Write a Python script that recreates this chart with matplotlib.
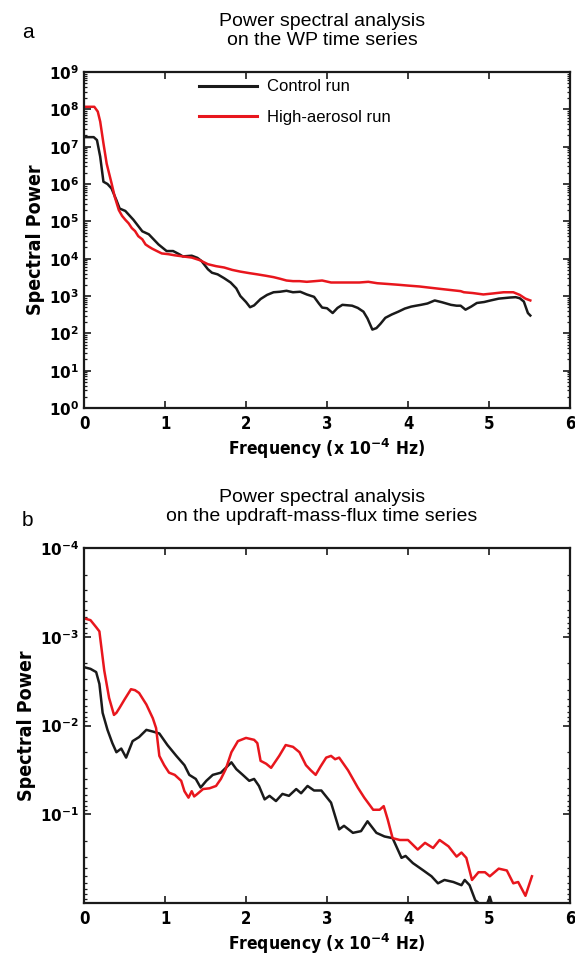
import matplotlib
matplotlib.use("Agg")
import matplotlib.pyplot as plt
from matplotlib import font_manager as fm
from matplotlib.ticker import LogLocator, FixedLocator, NullFormatter

# ---------------- data (panel a: WP time series) ----------------
freq_a_ctrl = [0.00, 0.12, 0.16, 0.20, 0.24, 0.29, 0.34, 0.40, 0.44, 0.51, 0.61, 0.72, 0.80, 0.92,
               1.02, 1.10, 1.18, 1.22, 1.33, 1.40, 1.45, 1.53, 1.58, 1.65, 1.73, 1.81, 1.88, 1.93,
               2.00, 2.05, 2.10, 2.18, 2.26, 2.34, 2.42, 2.50, 2.58, 2.67, 2.75, 2.84, 2.90, 2.94,
               3.00, 3.07, 3.13, 3.19, 3.31, 3.38, 3.45, 3.50, 3.56, 3.61, 3.66, 3.72, 3.80, 3.88,
               3.96, 4.04, 4.10, 4.16, 4.24, 4.33, 4.42, 4.53, 4.60, 4.65, 4.71, 4.78, 4.85, 4.94,
               5.02, 5.12, 5.26, 5.33, 5.38, 5.43, 5.48, 5.51]
power_a_ctrl = [1.8e7, 1.8e7, 1.5e7, 5.4e6, 1.15e6, 1.0e6, 7.6e5, 3.7e5, 2.2e5, 1.9e5, 1.1e5, 5.4e4, 4.5e4, 2.4e4,
                1.6e4, 1.6e4, 1.3e4, 1.15e4, 1.2e4, 1.05e4, 8.7e3, 5.2e3, 4.2e3, 3.8e3, 3.0e3, 2.3e3, 1.6e3, 1.0e3,
                6.9e2, 5.0e2, 5.6e2, 8.3e2, 1.07e3, 1.26e3, 1.3e3, 1.38e3, 1.26e3, 1.3e3, 1.1e3, 9.5e2, 6.3e2, 4.9e2,
                4.7e2, 3.5e2, 4.8e2, 5.8e2, 5.5e2, 4.8e2, 3.8e2, 2.5e2, 1.26e2, 1.38e2, 1.8e2, 2.6e2, 3.2e2, 3.8e2,
                4.6e2, 5.2e2, 5.5e2, 5.8e2, 6.3e2, 7.6e2, 6.8e2, 5.8e2, 5.5e2, 5.5e2, 4.3e2, 5.2e2, 6.5e2, 6.9e2,
                7.6e2, 8.5e2, 9.1e2, 9.3e2, 8.7e2, 7.1e2, 3.5e2, 3.0e2]

freq_a_aero = [0.00, 0.127, 0.17, 0.20, 0.24, 0.28, 0.34, 0.38, 0.43, 0.47, 0.51, 0.55, 0.59, 0.63, 0.67,
               0.72, 0.76, 0.80, 0.84, 0.90, 0.96, 1.04, 1.12, 1.22, 1.33, 1.43, 1.53, 1.63, 1.73, 1.83,
               1.93, 2.04, 2.14, 2.24, 2.34, 2.42, 2.50, 2.58, 2.66, 2.75, 2.85, 2.94, 3.05, 3.16, 3.27,
               3.40, 3.51, 3.62, 3.75, 3.88, 4.00, 4.14, 4.28, 4.40, 4.52, 4.65, 4.69, 4.80, 4.93, 5.05,
               5.18, 5.30, 5.38, 5.45, 5.51]
power_a_aero = [1.17e8, 1.17e8, 8.7e7, 4.7e7, 1.23e7, 3.5e6, 1.05e6, 4.5e5, 2.0e5, 1.4e5, 1.1e5, 8.9e4, 6.6e4, 5.5e4, 4.0e4,
                3.3e4, 2.4e4, 2.1e4, 1.86e4, 1.6e4, 1.38e4, 1.32e4, 1.23e4, 1.15e4, 1.07e4, 9.1e3, 7.1e3, 6.3e3, 5.8e3, 5.0e3,
                4.5e3, 4.1e3, 3.8e3, 3.5e3, 3.2e3, 2.9e3, 2.6e3, 2.5e3, 2.5e3, 2.4e3, 2.5e3, 2.6e3, 2.3e3, 2.3e3, 2.3e3,
                2.3e3, 2.4e3, 2.2e3, 2.1e3, 2.0e3, 1.9e3, 1.8e3, 1.66e3, 1.55e3, 1.45e3, 1.35e3, 1.26e3, 1.2e3, 1.1e3, 1.17e3,
                1.26e3, 1.26e3, 1.07e3, 8.5e2, 7.6e2]

# ---------------- data (panel b: updraft-mass-flux time series) ----------------
freq_b_ctrl = [0.00, 0.08, 0.15, 0.19, 0.23, 0.29, 0.35, 0.40, 0.46, 0.52, 0.60, 0.68, 0.77, 0.85, 0.93,
               1.03, 1.14, 1.24, 1.30, 1.38, 1.44, 1.51, 1.59, 1.69, 1.82, 1.88, 1.96, 2.04, 2.10, 2.16,
               2.23, 2.29, 2.37, 2.45, 2.53, 2.62, 2.68, 2.76, 2.84, 2.93, 3.05, 3.15, 3.21, 3.32, 3.42,
               3.50, 3.61, 3.71, 3.81, 3.92, 3.97, 4.06, 4.19, 4.29, 4.37, 4.45, 4.56, 4.66, 4.70, 4.76,
               4.83, 4.91, 4.97, 5.01, 5.05]
power_b_ctrl = [2.2e-3, 2.3e-3, 2.5e-3, 3.4e-3, 7.2e-3, 1.12e-2, 1.58e-2, 2.0e-2, 1.82e-2, 2.3e-2, 1.5e-2, 1.35e-2, 1.12e-2, 1.17e-2, 1.23e-2,
                1.66e-2, 2.2e-2, 2.8e-2, 3.6e-2, 4.0e-2, 5.0e-2, 4.2e-2, 3.6e-2, 3.4e-2, 2.6e-2, 3.1e-2, 3.6e-2, 4.2e-2, 4.0e-2, 4.8e-2,
                6.8e-2, 6.2e-2, 7.1e-2, 5.9e-2, 6.2e-2, 5.2e-2, 5.8e-2, 4.8e-2, 5.4e-2, 5.4e-2, 7.4e-2, 0.148, 0.135, 0.162, 0.155,
                0.12, 0.162, 0.178, 0.186, 0.31, 0.295, 0.355, 0.43, 0.50, 0.60, 0.55, 0.58, 0.63, 0.55, 0.63,
                0.93, 1.07, 1.05, 0.85, 1.12]

freq_b_aero = [0.00, 0.08, 0.15, 0.19, 0.25, 0.31, 0.37, 0.40, 0.44, 0.50, 0.58, 0.63, 0.68, 0.77, 0.85,
               0.89, 0.93, 0.99, 1.05, 1.12, 1.20, 1.24, 1.29, 1.33, 1.36, 1.39, 1.47, 1.55, 1.63, 1.69,
               1.75, 1.82, 1.90, 2.00, 2.10, 2.14, 2.18, 2.25, 2.31, 2.41, 2.49, 2.58, 2.66, 2.74, 2.80,
               2.86, 2.92, 2.99, 3.05, 3.10, 3.15, 3.26, 3.38, 3.46, 3.57, 3.65, 3.70, 3.75, 3.81, 3.90,
               4.00, 4.12, 4.21, 4.31, 4.39, 4.50, 4.60, 4.66, 4.72, 4.79, 4.87, 4.95, 5.01, 5.12, 5.22,
               5.30, 5.36, 5.45, 5.53]
power_b_aero = [6.2e-4, 6.5e-4, 7.8e-4, 8.7e-4, 2.4e-3, 4.9e-3, 7.6e-3, 7.2e-3, 6.3e-3, 5.1e-3, 3.9e-3, 4.0e-3, 4.3e-3, 5.8e-3, 8.3e-3,
                1.07e-2, 2.2e-2, 2.8e-2, 3.4e-2, 3.6e-2, 4.2e-2, 5.5e-2, 6.5e-2, 5.5e-2, 6.3e-2, 6.0e-2, 5.2e-2, 5.1e-2, 4.8e-2, 4.0e-2,
                3.1e-2, 2.0e-2, 1.5e-2, 1.38e-2, 1.45e-2, 1.58e-2, 2.5e-2, 2.7e-2, 3.0e-2, 2.2e-2, 1.66e-2, 1.74e-2, 2.0e-2, 2.8e-2, 3.2e-2,
                3.6e-2, 2.9e-2, 2.3e-2, 2.2e-2, 2.4e-2, 2.3e-2, 3.2e-2, 5.0e-2, 6.5e-2, 8.9e-2, 8.9e-2, 8.1e-2, 0.115, 0.186, 0.195,
                0.195, 0.25, 0.21, 0.24, 0.195, 0.23, 0.30, 0.27, 0.31, 0.55, 0.45, 0.45, 0.50, 0.41, 0.43,
                0.60, 0.58, 0.83, 0.50]

series_labels = ["Control run", "High-aerosol run"]
x_ticks = [0, 1, 2, 3, 4, 5, 6]
ya_exps = list(range(0, 10))
yb_exps = [-4, -3, -2, -1]

titles = ["Power spectral analysis\non the WP time series",
          "Power spectral analysis\non the updraft-mass-flux time series"]
panel_letters = ["a", "b"]
ylabel = "Spectral Power"
xlabel = r"Frequency (x 10$^{\mathbf{-4}}$ Hz)"

# ---------------- fonts ----------------
def find_condensed():
    for f in fm.fontManager.ttflist:
        n = f.fname.lower()
        if ("condensed" in n or "narrow" in n) and ("bold" in n or f.weight in ("bold", 700)):
            return fm.FontProperties(fname=f.fname)
    for f in fm.fontManager.ttflist:
        n = f.fname.lower()
        if "condensed" in n or "narrow" in n:
            return fm.FontProperties(fname=f.fname, weight="bold")
    return fm.FontProperties(family="Roboto", weight="bold")

COND_FP = find_condensed()
REG = "Liberation Sans"
plt.rcParams["font.family"] = [REG, "DejaVu Sans"]
plt.rcParams["mathtext.fontset"] = "dejavusans"

BLACK = "#1a1a1a"
RED = "#e8161d"

fig = plt.figure(figsize=(5.75, 9.57), dpi=100)
W, H = 575.0, 957.0

def add_axes(l, r, t, b):
    return fig.add_axes([l / W, 1 - b / H, (r - l) / W, (b - t) / H])

axA = add_axes(84, 570, 72, 408)
axB = add_axes(84, 570, 548, 903)

def cond(size):
    fp = COND_FP.copy()
    fp.set_size(size)
    return fp

def style(ax):
    for s in ax.spines.values():
        s.set_linewidth(1.6)
        s.set_color(BLACK)
    ax.set_xlim(0, 6)
    ax.xaxis.set_major_locator(FixedLocator(x_ticks))
    ax.tick_params(axis="both", which="major", direction="in", length=5, width=1.2,
                   top=True, right=True, color=BLACK)
    ax.tick_params(axis="y", which="minor", direction="in", length=2.5, width=0.9,
                   left=True, right=True, color=BLACK)
    ax.tick_params(axis="x", which="major", pad=5)
    ax.set_xticklabels([str(t) for t in x_ticks], fontproperties=cond(12))
    ax.set_ylabel(ylabel, fontproperties=cond(14), labelpad=3)
    ax.set_xlabel(xlabel, fontproperties=cond(12.5), labelpad=3)

# ---- panel a ----
axA.plot(freq_a_ctrl, power_a_ctrl, color=BLACK, lw=1.8, label=series_labels[0])
axA.plot(freq_a_aero, power_a_aero, color=RED, lw=1.8, label=series_labels[1])
axA.set_yscale("log")
axA.set_ylim(1, 1e9)
axA.yaxis.set_major_locator(FixedLocator([10.0 ** e for e in ya_exps]))
axA.yaxis.set_minor_locator(LogLocator(base=10, subs=range(2, 10), numticks=20))
axA.yaxis.set_minor_formatter(NullFormatter())
style(axA)
axA.set_yticklabels([r"$\mathbf{10^{%d}}$" % e for e in ya_exps], fontsize=11)
leg = axA.legend(loc="upper left", bbox_to_anchor=(0.236, 0.978), frameon=False,
                 fontsize=12, handlelength=3.5, handletextpad=0.6, labelspacing=0.95,
                 borderpad=0, borderaxespad=0)
for ln in leg.get_lines():
    ln.set_linewidth(2.2)

# ---- panel b ----
axB.plot(freq_b_ctrl, power_b_ctrl, color=BLACK, lw=1.8)
axB.plot(freq_b_aero, power_b_aero, color=RED, lw=1.8)
axB.set_yscale("log")
axB.set_ylim(1, 1e-4)
axB.yaxis.set_major_locator(FixedLocator([10.0 ** e for e in yb_exps] + [1.0]))
axB.yaxis.set_minor_locator(LogLocator(base=10, subs=range(2, 10), numticks=20))
axB.yaxis.set_minor_formatter(NullFormatter())
style(axB)
axB.set_yticklabels([r"$\mathbf{10^{%d}}$" % e for e in yb_exps] + [""], fontsize=11)

# ---- titles and panel letters ----
fig.text(322 / W, 1 - 31 / H, titles[0], ha="center", va="center", fontsize=14, linespacing=1.08)
fig.text(322 / W, 1 - 507 / H, titles[1], ha="center", va="center", fontsize=14, linespacing=1.08)
fig.text(22 / W, 1 - 33 / H, panel_letters[0], ha="left", va="center", fontsize=15)
fig.text(22 / W, 1 - 520 / H, panel_letters[1], ha="left", va="center", fontsize=15)

fig.savefig("out.png", dpi=100)
